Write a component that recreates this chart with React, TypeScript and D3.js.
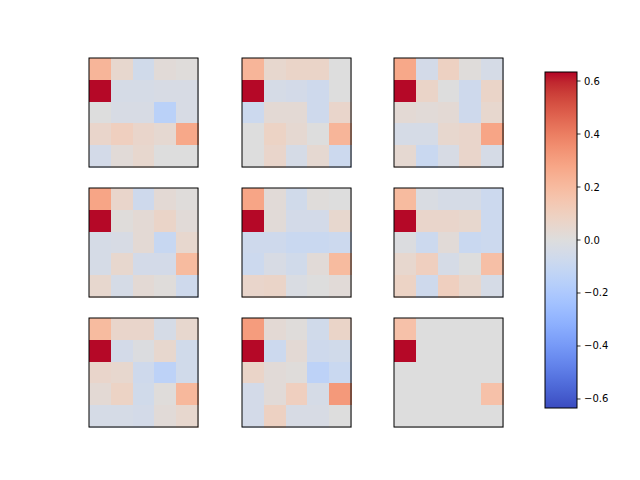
import React from 'react';
import * as d3 from 'd3';

// 5x5 grids, row by row, top to bottom
const gridA = [
  [0.22, 0.05, -0.06, 0.02, 0.01],
  [0.63, -0.04, -0.04, -0.03, -0.03],
  [0.0, -0.03, -0.03, -0.15, -0.03],
  [0.06, 0.1, 0.06, 0.04, 0.27],
  [-0.05, 0.02, 0.05, 0.0, 0.0],
];
const gridB = [
  [0.22, 0.05, 0.07, 0.07, 0.0],
  [0.63, -0.04, -0.05, -0.07, 0.0],
  [-0.08, 0.03, 0.03, -0.07, 0.06],
  [0.0, 0.08, 0.04, 0.0, 0.22],
  [0.0, 0.06, -0.04, 0.04, -0.08],
];
const gridC = [
  [0.27, -0.05, 0.09, 0.01, -0.04],
  [0.63, 0.07, 0.0, -0.07, 0.07],
  [0.03, 0.02, 0.03, -0.07, 0.05],
  [-0.04, -0.04, 0.05, 0.06, 0.28],
  [0.04, -0.09, -0.03, 0.06, -0.04],
];
const gridD = [
  [0.28, 0.06, -0.07, 0.03, 0.01],
  [0.63, 0.01, 0.03, 0.07, 0.02],
  [-0.04, -0.03, 0.03, -0.1, 0.05],
  [-0.04, 0.05, -0.05, -0.05, 0.2],
  [0.05, -0.04, 0.03, 0.01, -0.07],
];
const gridE = [
  [0.28, 0.02, -0.06, 0.01, 0.0],
  [0.63, 0.02, -0.05, -0.05, 0.05],
  [-0.07, -0.07, -0.09, -0.09, -0.08],
  [-0.08, -0.03, -0.06, 0.02, 0.2],
  [0.06, 0.07, -0.02, 0.0, 0.02],
];
const gridF = [
  [0.2, -0.02, -0.04, -0.04, -0.08],
  [0.63, 0.06, 0.06, 0.05, -0.08],
  [-0.01, -0.08, 0.02, -0.09, -0.08],
  [0.05, 0.1, -0.04, 0.0, 0.18],
  [0.08, -0.07, 0.1, 0.05, -0.04],
];
const gridG = [
  [0.2, 0.06, 0.06, -0.04, 0.05],
  [0.63, -0.05, -0.01, 0.05, -0.06],
  [0.06, 0.05, -0.07, -0.14, -0.06],
  [0.03, 0.08, -0.06, 0.01, 0.21],
  [-0.04, -0.04, -0.05, 0.02, 0.05],
];
const gridH = [
  [0.31, 0.03, 0.01, -0.06, 0.07],
  [0.63, -0.08, 0.03, -0.07, -0.06],
  [0.07, 0.02, 0.01, -0.14, -0.09],
  [-0.05, 0.02, 0.1, -0.04, 0.32],
  [-0.05, 0.09, -0.03, -0.03, 0.0],
];
const gridI = [
  [0.17, 0, 0, 0, 0],
  [0.63, 0, 0, 0, 0],
  [0, 0, 0, 0, 0],
  [0, 0, 0, 0, 0.17],
  [0, 0, 0, 0, 0],
];
const grids = [gridA, gridB, gridC, gridD, gridE, gridF, gridG, gridH, gridI];

const vLimit = 0.634;
const cbarTicks = [0.6, 0.4, 0.2, 0.0, -0.2, -0.4, -0.6];

// matplotlib coolwarm
const coolwarm = [
  [59, 76, 192], [68, 90, 204], [77, 104, 215], [87, 117, 225], [98, 130, 234],
  [108, 142, 241], [119, 154, 247], [130, 165, 251], [141, 176, 254], [152, 185, 255],
  [163, 194, 255], [174, 201, 253], [184, 208, 249], [194, 213, 244], [204, 217, 238],
  [213, 219, 230], [221, 221, 221], [229, 216, 209], [236, 211, 197], [241, 204, 185],
  [245, 196, 173], [247, 187, 160], [247, 177, 148], [247, 166, 135], [244, 154, 123],
  [241, 141, 111], [236, 127, 99], [229, 112, 88], [222, 96, 77], [213, 80, 66],
  [203, 62, 56], [192, 40, 47], [180, 4, 38],
].map(([r, g, b]) => `rgb(${r},${g},${b})`);

const cmap = d3.scaleLinear<string>()
  .domain(coolwarm.map((_, i) => -vLimit + (2 * vLimit * i) / (coolwarm.length - 1)))
  .range(coolwarm)
  .interpolate(d3.interpolateRgb)
  .clamp(true);

const panelX = [89, 242, 394];
const panelY = [58, 188, 318];
const panelSize = 109;

const Panel = ({ grid, x0, y0 }: { grid: number[][]; x0: number; y0: number }) => {
  const x = d3.scaleBand<number>().domain(d3.range(5)).range([x0, x0 + panelSize]);
  const y = d3.scaleBand<number>().domain(d3.range(5)).range([y0, y0 + panelSize]);
  return (
    <g>
      {grid.map((row, r) =>
        row.map((v, c) => (
          <rect key={`${r}-${c}`} x={x(c)} y={y(r)} width={x.bandwidth() + 0.5} height={y.bandwidth() + 0.5}
            fill={cmap(v)} shapeRendering="crispEdges" />
        ))
      )}
      <rect x={x0} y={y0} width={panelSize} height={panelSize} fill="none" stroke="#000" strokeWidth={1} />
    </g>
  );
};

export default function App() {
  const cbX = 545, cbW = 32, cbTop = 72, cbBottom = 408;
  const cbScale = d3.scaleLinear().domain([-vLimit, vLimit]).range([cbBottom, cbTop]);
  return (
    <svg width={640} height={480} style={{ position: 'absolute', left: 0, top: 0, background: '#fff' }}
      fontFamily="DejaVu Sans, sans-serif">
      <defs>
        <linearGradient id="cw" x1="0" y1="1" x2="0" y2="0">
          {coolwarm.map((c, i) => (
            <stop key={i} offset={i / (coolwarm.length - 1)} stopColor={c} />
          ))}
        </linearGradient>
      </defs>
      {grids.map((g, i) => (
        <Panel key={i} grid={g} x0={panelX[i % 3]} y0={panelY[Math.floor(i / 3)]} />
      ))}
      <rect x={cbX} y={cbTop} width={cbW} height={cbBottom - cbTop} fill="url(#cw)" stroke="#000" strokeWidth={1} />
      {cbarTicks.map((t) => (
        <g key={t} transform={`translate(${cbX + cbW},${cbScale(t)})`}>
          <line x1={0} x2={3.5} stroke="#000" strokeWidth={0.8} />
          <text x={7} dy="0.35em" fontSize={10} fill="#000">
            {t < 0 ? `\u2212${Math.abs(t).toFixed(1)}` : t.toFixed(1)}
          </text>
        </g>
      ))}
    </svg>
  );
}
